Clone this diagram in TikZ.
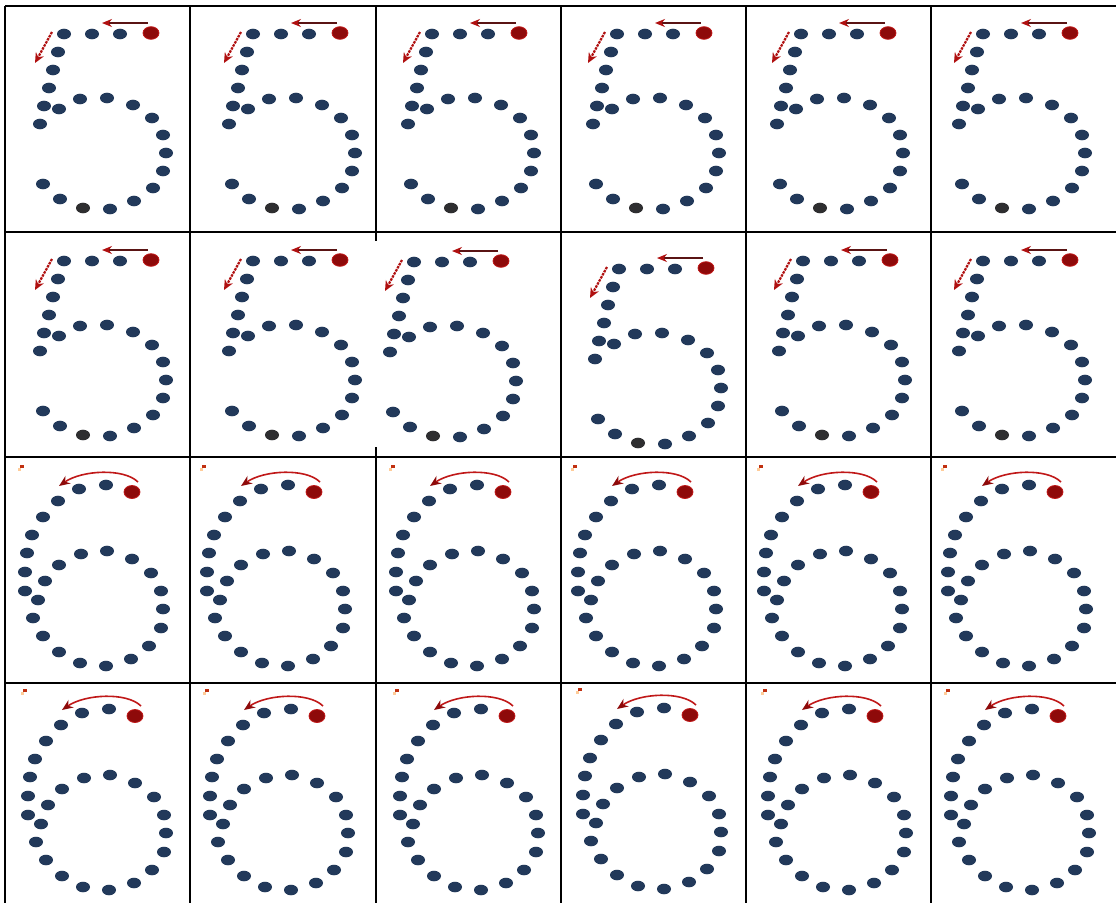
\documentclass[tikz,border=0pt]{standalone}
\usetikzlibrary{arrows.meta}
\definecolor{dotc}{HTML}{22395A}
\definecolor{darkdot}{HTML}{2E2E30}
\definecolor{reddot}{HTML}{8E0A0A}
\definecolor{rededge}{HTML}{C01818}
\definecolor{arrline}{HTML}{5A1414}
\definecolor{arrhead}{HTML}{B01010}
\definecolor{markc}{HTML}{C03010}
\tikzset{
  bluedot/.style={fill=dotc},
  greydot/.style={fill=darkdot},
  startdot/.style={fill=reddot,draw=rededge,line width=0.8pt},
  gridline/.style={line width=2pt,black},
  hookarrow/.style={line width=1.4pt,draw=arrline,-{Stealth[length=10pt,width=8pt,color=arrhead]}},
  dasharrow/.style={line width=2.2pt,draw=arrhead,dash pattern=on 2.5pt off 1pt,-{Stealth[length=10pt,width=9pt,color=arrhead]}},
  arcarrow/.style={line width=1.6pt,draw=rededge,-{Stealth[length=11pt,width=9pt,color=reddot]}},
  five/.pic={
    \foreach \a/\b in {-31/1,-59/1,-87/1,-93/19,-98/37,-102/55,-107/73,-92/76,-111/91,
                       -71/66,-44/65,-18/72,1/85,12/102,15/120,12/138,2/155,-17/168,-41/176,-91/166,-108/151}
      \fill[bluedot] (\a,\b) ellipse[x radius=7pt,y radius=5.3pt];
    \fill[greydot] (-68,175) ellipse[x radius=7pt,y radius=5.3pt];
    \fill[startdot] (0,0) ellipse[x radius=8pt,y radius=6.3pt];
    \draw[hookarrow] (-3,-10) -- (-49,-10);
    \draw[dasharrow] (-99,-1) -- (-116,30);
  },
  six/.pic={
    \foreach \a/\b in {-26/-7,-53/-3,-74/9,-89/25,-100/43,-105/61,-107/80,-107/99,-99/126,-89/144,
                       -73/160,-52/171,-26/174,-1/167,17/154,29/136,31/117,29/99,19/81,0/67,
                       -25/59,-51/62,-73/73,-87/89,-94/108}
      \fill[bluedot] (\a,\b) ellipse[x radius=7pt,y radius=5.3pt];
    \fill[startdot] (0,0) ellipse[x radius=8pt,y radius=6.5pt];
    \draw[arcarrow] (6,-10) .. controls (-8,-24) and (-50,-22) .. (-73,-6);
    \fill[markc] (-112,-27) rectangle (-108,-24);
    \fill[orange!40] (-114,-24) rectangle (-111,-21);
  }
}
\begin{document}
\begin{tikzpicture}[x=1pt,y=-1pt]
\useasboundingbox (0,0) rectangle (1116,903);
\fill[white] (0,0) rectangle (1116,903);
% digits "5"
\foreach \x/\y in {151/33,340/33,519/33,704/33,888/33,1070/33,
                   151/260,340/260,501/261,706/268,890/260,1070/260}
  \pic at (\x,\y) {five};
% digits "6"
\foreach \x/\y in {132/492,314/492,503/492,685/492,871/492,1055/492,
                   135/716,317/716,507/716,690/715,875/716,1058/716}
  \pic at (\x,\y) {six};
% grid
\draw[gridline] (5,6) -- (1116,6);
\draw[gridline] (5,6) -- (5,903);
\foreach \yy in {232,457,683}
  \draw[gridline] (5,\yy) -- (1116,\yy);
\foreach \xx in {190,561,746,931}
  \draw[gridline] (\xx,6) -- (\xx,903);
\draw[gridline] (376,6) -- (376,241);
\draw[gridline] (376,447) -- (376,903);
\end{tikzpicture}
\end{document}
